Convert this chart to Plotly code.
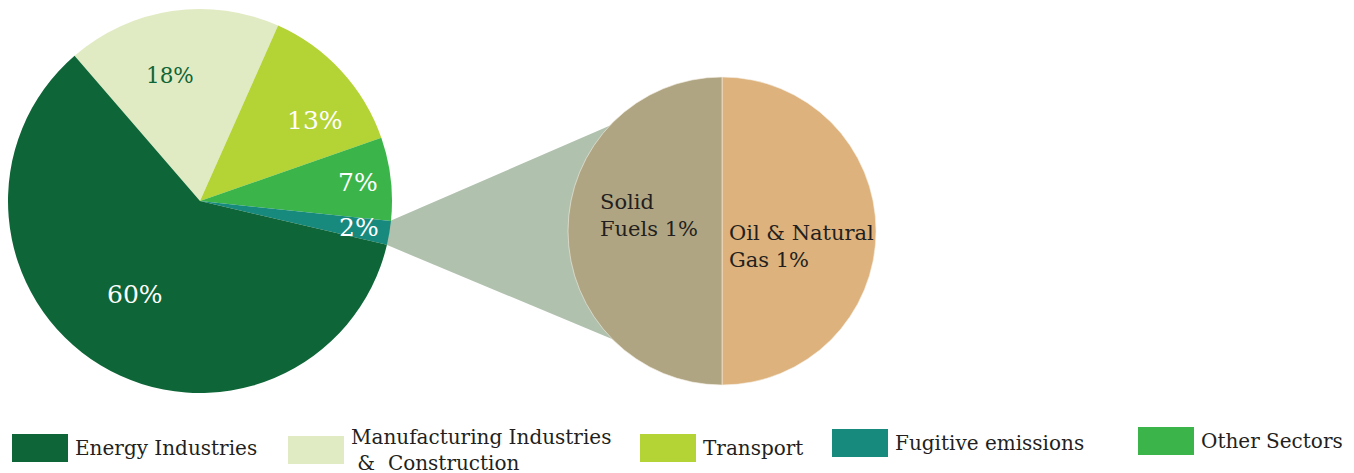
import math
import plotly.graph_objects as go

# ---------------- data ----------------
main_labels = ["Manufacturing Industries<br> &  Construction", "Transport", "Other Sectors",
               "Fugitive emissions", "Energy Industries"]
main_values = [18, 13, 7, 2, 60]
main_colors = ["#E1EBC3", "#B4D334", "#3BB54A", "#178A7D", "#0E6537"]

sub_labels = ["Oil & Natural<br>Gas", "Solid<br>Fuels"]
sub_values = [1, 1]
sub_colors = ["#DDB27C", "#B0A582"]

legend_order = ["Energy Industries", "Manufacturing Industries<br> &  Construction", "Transport",
                "Fugitive emissions", "Other Sectors"]

# ---------------- layout geometry (styles) ----------------
W, H = 1354, 473
OFF = 8  # page body margin
FONT = "DejaVu Serif"
main_box = (8, 9, 392, 393)      # left, top, right, bottom in page pixels
sub_box = (568, 77, 876, 385)
main_rotation = -40.8
label_r = [0.67, 0.73, 0.83, 0.84, 0.595]
label_dang = [-5.0, 7.4, 0.0, 0.0, 3.5]
label_size = [21.5, 25, 25, 25, 25]
label_color = ["#0E6537", "white", "white", "white", "white"]
zoom_index = 3  # the 2% slice is exploded into the sub pie


def to_paper(px, py):
    return (px - OFF) / W, 1 - (py - OFF) / H


def domain(box):
    x0, y1 = to_paper(box[0], box[1])
    x1, y0 = to_paper(box[2], box[3])
    return [max(0, x0), min(1, x1)], [max(0, y0), min(1, y1)]


def geom(box):
    r = min(box[2] - box[0], box[3] - box[1]) / 2
    return (box[0] + box[2]) / 2, (box[1] + box[3]) / 2, r


main_dom_x, main_dom_y = domain(main_box)
sub_dom_x, sub_dom_y = domain(sub_box)
mcx, mcy, mr = geom(main_box)
scx, scy, sr = geom(sub_box)

total = sum(main_values)
starts, ends = [], []
a = main_rotation
for v in main_values:
    starts.append(a)
    a += v / total * 360
    ends.append(a)


def pt(cx, cy, r, ang):
    t = math.radians(ang)
    return cx + r * math.sin(t), cy - r * math.cos(t)


fig = go.Figure()
fig.add_trace(go.Pie(
    labels=main_labels, values=main_values, sort=False, direction="clockwise",
    rotation=main_rotation, marker=dict(colors=main_colors, line=dict(width=0)),
    textinfo="none", hoverinfo="label+value", showlegend=False,
    domain=dict(x=main_dom_x, y=main_dom_y),
))
fig.add_trace(go.Pie(
    labels=sub_labels, values=sub_values, sort=False, direction="clockwise",
    rotation=0, marker=dict(colors=sub_colors, line=dict(width=0.6, color="#F4EEE4")),
    textinfo="none", hoverinfo="label", showlegend=False,
    domain=dict(x=sub_dom_x, y=sub_dom_y),
))

# connector between the 2% slice and the sub pie
p1 = pt(mcx, mcy, mr - 1, starts[zoom_index])
p2 = pt(mcx, mcy, mr - 1, ends[zoom_index])
p3 = (scx, scy + sr)
p4 = (scx, scy - sr)
path = "M {} {} L {} {} L {} {} L {} {} Z".format(
    *to_paper(*p1), *to_paper(*p2), *to_paper(*p3), *to_paper(*p4))
shapes = [dict(type="path", path=path, xref="paper", yref="paper",
               fillcolor="#B0C1AE", line=dict(width=0), layer="below")]

annotations = []
for i, v in enumerate(main_values):
    mid = (starts[i] + ends[i]) / 2 + label_dang[i]
    px, py = pt(mcx, mcy, mr * label_r[i], mid)
    x, y = to_paper(px, py)
    annotations.append(dict(x=x, y=y, xref="paper", yref="paper", text=f"{v}%",
                            xanchor="center", yanchor="middle",
                            showarrow=False, font=dict(family=FONT, size=label_size[i],
                                                       color=label_color[i])))

# sub pie labels (left aligned)
sub_offsets = [(0.03, 0.10), (-0.805, -0.10)]
for i, v in enumerate(sub_values):
    ox, oy = sub_offsets[i]
    x, y = to_paper(scx + ox * sr, scy + oy * sr)
    annotations.append(dict(x=x, y=y, xref="paper", yref="paper", xanchor="left",
                            yanchor="middle", align="left",
                            text=sub_labels[i] + f" {v}%", showarrow=False,
                            font=dict(family=FONT, size=21, color="#231F20")))

# manual legend
leg_x = [12, 288, 640, 832, 1138]
leg_y = [448, 450, 448, 443, 441]
sw_w, sw_h = 56, 28
color_of = dict(zip(main_labels, main_colors))
for lab, lx, ly in zip(legend_order, leg_x, leg_y):
    x0, y1 = to_paper(lx, ly - sw_h / 2)
    x1, y0 = to_paper(lx + sw_w, ly + sw_h / 2)
    shapes.append(dict(type="rect", xref="paper", yref="paper", x0=x0, x1=x1, y0=y0, y1=y1,
                       fillcolor=color_of[lab], line=dict(width=0)))
    tx, ty = to_paper(lx + sw_w + 5, ly)
    annotations.append(dict(x=tx, y=ty, xref="paper", yref="paper", xanchor="left",
                            yanchor="middle", align="left", text=lab, showarrow=False,
                            font=dict(family=FONT, size=20, color="#231F20")))

fig.update_layout(
    width=W, height=H, margin=dict(l=0, r=0, t=0, b=0),
    paper_bgcolor="white", plot_bgcolor="white",
    shapes=shapes, annotations=annotations, showlegend=False,
    font=dict(family=FONT),
)
fig.write_html("out.html")
